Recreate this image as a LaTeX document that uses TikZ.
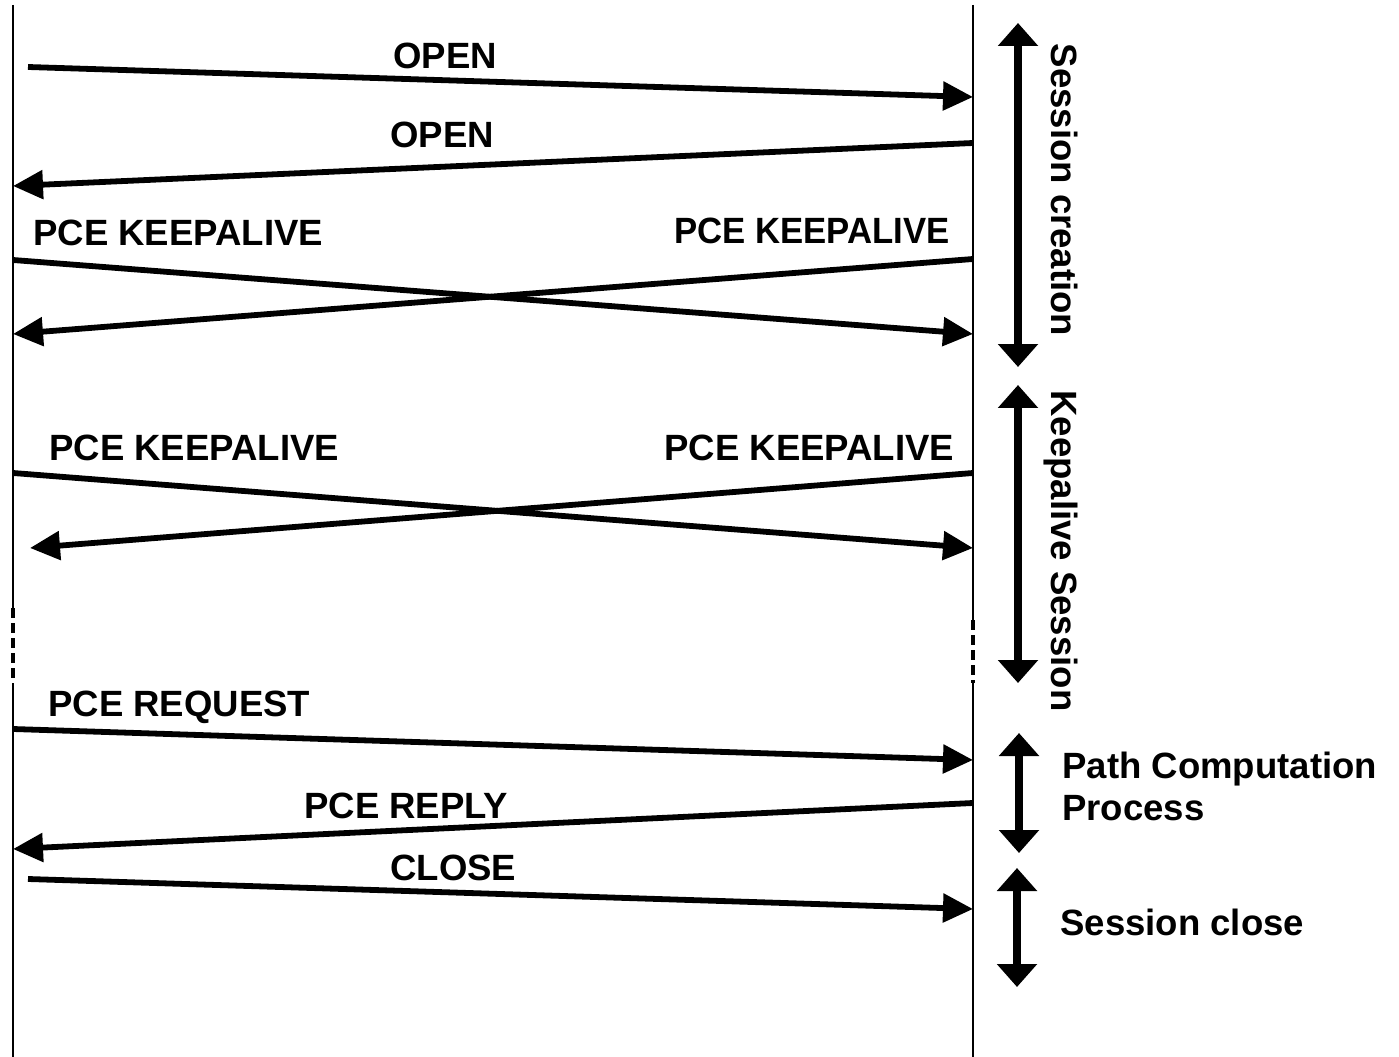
\documentclass[tikz,border=0pt]{standalone}
\usepackage{fontspec}
\setmainfont{Liberation Sans}
\usetikzlibrary{arrows.meta}
\begin{document}
\begin{tikzpicture}[x=0.02cm,y=-0.02cm,
  lifeline/.style={line width=1.5pt},
  gapline/.style={line width=2.6pt, dash pattern=on 5.7pt off 2.85pt},
  msg/.style={line width=3.3pt, -{Triangle[length=0.6cm,width=0.56cm]}},
  phase/.style={line width=4.2pt,
    {Triangle[length=0.46cm,width=0.78cm]}-{Triangle[length=0.46cm,width=0.78cm]}},
  lbl/.style={font=\fontsize{20.8}{25}\selectfont\bfseries, inner sep=0pt, anchor=base west},
  vlbl/.style={font=\fontsize{20.8}{25}\selectfont\bfseries, inner sep=0pt, anchor=base, rotate=-90},
]
\useasboundingbox (0,0) rectangle (1399,1057);

% lifelines with a dashed interruption
\coordinate (Ltop) at (13,5);
\coordinate (Lgap1) at (13,608);
\coordinate (Lgap2) at (13,683);
\coordinate (Lbot) at (13,1057);
\coordinate (Rtop) at (973,5);
\coordinate (Rgap1) at (973,620);
\coordinate (Rgap2) at (973,683);
\coordinate (Rbot) at (973,1057);
\draw[lifeline] (Ltop) -- (Lgap1);
\draw[gapline] (Lgap1) -- (Lgap2);
\draw[lifeline] (Lgap2) -- (Lbot);
\draw[lifeline] (Rtop) -- (Rgap1);
\draw[gapline] (Rgap1) -- (Rgap2);
\draw[lifeline] (Rgap2) -- (Rbot);

% message end points
\coordinate (o1s) at (28,67);   \coordinate (o1e) at (973,97);
\coordinate (o2s) at (973,143); \coordinate (o2e) at (13,186);
\coordinate (k1s) at (13,260);  \coordinate (k1e) at (973,334);
\coordinate (k2s) at (973,259); \coordinate (k2e) at (13,334);
\coordinate (k3s) at (13,473);  \coordinate (k3e) at (973,548);
\coordinate (k4s) at (973,473); \coordinate (k4e) at (30,548);
\coordinate (rqs) at (13,729);  \coordinate (rqe) at (973,760);
\coordinate (rps) at (973,803); \coordinate (rpe) at (13,849);
\coordinate (cls) at (28,879);  \coordinate (cle) at (973,909);

% messages
\draw[msg] (o1s) -- (o1e);
\draw[msg] (o2s) -- (o2e);
\draw[msg] (k1s) -- (k1e);
\draw[msg] (k2s) -- (k2e);
\draw[msg] (k3s) -- (k3e);
\draw[msg] (k4s) -- (k4e);
\draw[msg] (rqs) -- (rqe);
\draw[msg] (rps) -- (rpe);
\draw[msg] (cls) -- (cle);

% message labels
\node[lbl] (tOpen1) at (393,69) {OPEN};
\node[lbl] (tOpen2) at (390,148) {OPEN};
\node[lbl] (tKa1) at (33,246) {PCE KEEPALIVE};
\node[lbl, anchor=base east, xscale=0.95] (tKa2) at (950,244) {PCE KEEPALIVE};
\node[lbl] (tKa3) at (49,460) {PCE KEEPALIVE};
\node[lbl] (tKa4) at (664,460) {PCE KEEPALIVE};
\node[lbl] (tReq) at (48,716) {PCE REQUEST};
\node[lbl] (tRep) at (304,818) {PCE REPLY};
\node[lbl] (tClose) at (390,880) {CLOSE};

% phase spans
\coordinate (p1a) at (1018,23);  \coordinate (p1b) at (1018,367);
\coordinate (p2a) at (1018,385); \coordinate (p2b) at (1018,683);
\coordinate (p3a) at (1019,733); \coordinate (p3b) at (1019,853);
\coordinate (p4a) at (1017,868); \coordinate (p4b) at (1017,987);
\draw[phase] (p1a) -- (p1b);
\draw[phase] (p2a) -- (p2b);
\draw[phase] (p3a) -- (p3b);
\draw[phase] (p4a) -- (p4b);

% phase labels
\node[vlbl] (tCreate) at (1051,190) {Session creation};
\node[vlbl] (tKeep) at (1051,551) {Keepalive Session};
\node[lbl] (tPath1) at (1062,778) {Path Computation};
\node[lbl] (tPath2) at (1062,820) {Process};
\node[lbl] (tCloseP) at (1060,935) {Session close};
\end{tikzpicture}
\end{document}
